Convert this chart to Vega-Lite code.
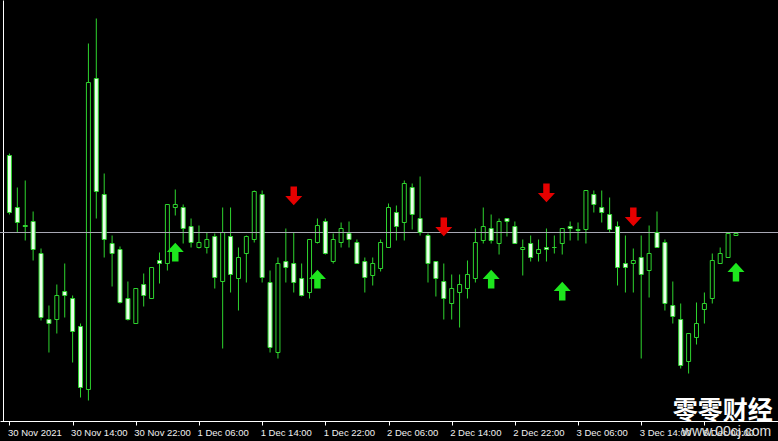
{
  "$schema": "https://vega.github.io/schema/vega-lite/v6.json",
  "width": 778,
  "height": 421,
  "autosize": {"type": "none"},
  "padding": {"left": 0, "top": 0, "right": 0, "bottom": 20},
  "background": "#000000",
  "config": {
    "view": {"stroke": null},
    "axis": {"grid": false, "title": null}
  },
  "datasets": {
    "candles": [
      {"t":"2021-11-30 06:00","i":0,"o":266,"h":268,"l":207,"c":209},
      {"t":"2021-11-30 07:00","i":1,"o":214,"h":234,"l":189,"c":199},
      {"t":"2021-11-30 08:00","i":2,"o":196,"h":241,"l":181,"c":195},
      {"t":"2021-11-30 09:00","i":3,"o":200,"h":210,"l":161,"c":172},
      {"t":"2021-11-30 10:00","i":4,"o":168,"h":173,"l":101,"c":104},
      {"t":"2021-11-30 11:00","i":5,"o":102,"h":116,"l":69,"c":98},
      {"t":"2021-11-30 12:00","i":6,"o":102,"h":137,"l":88,"c":126},
      {"t":"2021-11-30 13:00","i":7,"o":130,"h":158,"l":104,"c":126},
      {"t":"2021-11-30 14:00","i":8,"o":123,"h":126,"l":59,"c":90},
      {"t":"2021-11-30 15:00","i":9,"o":95,"h":98,"l":24,"c":34},
      {"t":"2021-11-30 16:00","i":10,"o":32,"h":378,"l":21,"c":339},
      {"t":"2021-11-30 17:00","i":11,"o":343,"h":403,"l":203,"c":230},
      {"t":"2021-11-30 18:00","i":12,"o":227,"h":248,"l":164,"c":182},
      {"t":"2021-11-30 19:00","i":13,"o":178,"h":186,"l":135,"c":168},
      {"t":"2021-11-30 20:00","i":14,"o":172,"h":175,"l":118,"c":119},
      {"t":"2021-11-30 21:00","i":15,"o":123,"h":140,"l":101,"c":102},
      {"t":"2021-11-30 22:00","i":16,"o":98,"h":133,"l":98,"c":133},
      {"t":"2021-11-30 23:00","i":17,"o":137,"h":148,"l":115,"c":126},
      {"t":"2021-12-01 00:00","i":18,"o":123,"h":154,"l":123,"c":154},
      {"t":"2021-12-01 01:00","i":19,"o":161,"h":169,"l":138,"c":158},
      {"t":"2021-12-01 02:00","i":20,"o":158,"h":217,"l":151,"c":217},
      {"t":"2021-12-01 03:00","i":21,"o":214,"h":232,"l":206,"c":217},
      {"t":"2021-12-01 04:00","i":22,"o":214,"h":217,"l":178,"c":193},
      {"t":"2021-12-01 05:00","i":23,"o":195,"h":203,"l":174,"c":179},
      {"t":"2021-12-01 06:00","i":24,"o":174,"h":196,"l":173,"c":179},
      {"t":"2021-12-01 07:00","i":25,"o":174,"h":189,"l":168,"c":182},
      {"t":"2021-12-01 08:00","i":26,"o":185,"h":188,"l":133,"c":144},
      {"t":"2021-12-01 09:00","i":27,"o":140,"h":214,"l":73,"c":189},
      {"t":"2021-12-01 10:00","i":28,"o":185,"h":214,"l":129,"c":147},
      {"t":"2021-12-01 11:00","i":29,"o":143,"h":174,"l":111,"c":164},
      {"t":"2021-12-01 12:00","i":30,"o":168,"h":186,"l":139,"c":185},
      {"t":"2021-12-01 13:00","i":31,"o":182,"h":231,"l":179,"c":230},
      {"t":"2021-12-01 14:00","i":32,"o":227,"h":231,"l":139,"c":144},
      {"t":"2021-12-01 15:00","i":33,"o":139,"h":151,"l":69,"c":74},
      {"t":"2021-12-01 16:00","i":34,"o":69,"h":164,"l":63,"c":158},
      {"t":"2021-12-01 17:00","i":35,"o":160,"h":193,"l":139,"c":154},
      {"t":"2021-12-01 18:00","i":36,"o":158,"h":189,"l":129,"c":139},
      {"t":"2021-12-01 19:00","i":37,"o":143,"h":158,"l":125,"c":126},
      {"t":"2021-12-01 20:00","i":38,"o":129,"h":182,"l":123,"c":182},
      {"t":"2021-12-01 21:00","i":39,"o":179,"h":203,"l":178,"c":196},
      {"t":"2021-12-01 22:00","i":40,"o":200,"h":203,"l":167,"c":168},
      {"t":"2021-12-01 23:00","i":41,"o":160,"h":188,"l":158,"c":182},
      {"t":"2021-12-02 00:00","i":42,"o":179,"h":199,"l":174,"c":193},
      {"t":"2021-12-02 01:00","i":43,"o":188,"h":200,"l":174,"c":182},
      {"t":"2021-12-02 02:00","i":44,"o":179,"h":182,"l":158,"c":158},
      {"t":"2021-12-02 03:00","i":45,"o":160,"h":164,"l":129,"c":144},
      {"t":"2021-12-02 04:00","i":46,"o":146,"h":164,"l":136,"c":158},
      {"t":"2021-12-02 05:00","i":47,"o":153,"h":182,"l":150,"c":179},
      {"t":"2021-12-02 06:00","i":48,"o":174,"h":218,"l":174,"c":214},
      {"t":"2021-12-02 07:00","i":49,"o":209,"h":216,"l":181,"c":195},
      {"t":"2021-12-02 08:00","i":50,"o":199,"h":241,"l":181,"c":238},
      {"t":"2021-12-02 09:00","i":51,"o":234,"h":238,"l":192,"c":207},
      {"t":"2021-12-02 10:00","i":52,"o":203,"h":245,"l":186,"c":189},
      {"t":"2021-12-02 11:00","i":53,"o":186,"h":188,"l":139,"c":158},
      {"t":"2021-12-02 12:00","i":54,"o":160,"h":160,"l":125,"c":143},
      {"t":"2021-12-02 13:00","i":55,"o":140,"h":158,"l":102,"c":123},
      {"t":"2021-12-02 14:00","i":56,"o":118,"h":147,"l":102,"c":133},
      {"t":"2021-12-02 15:00","i":57,"o":129,"h":147,"l":94,"c":137},
      {"t":"2021-12-02 16:00","i":58,"o":133,"h":161,"l":123,"c":147},
      {"t":"2021-12-02 17:00","i":59,"o":143,"h":193,"l":139,"c":179},
      {"t":"2021-12-02 18:00","i":60,"o":181,"h":214,"l":178,"c":195},
      {"t":"2021-12-02 19:00","i":61,"o":193,"h":207,"l":178,"c":181},
      {"t":"2021-12-02 20:00","i":62,"o":178,"h":203,"l":167,"c":200},
      {"t":"2021-12-02 21:00","i":63,"o":203,"h":203,"l":185,"c":200},
      {"t":"2021-12-02 22:00","i":64,"o":195,"h":200,"l":178,"c":178},
      {"t":"2021-12-02 23:00","i":65,"o":172,"h":182,"l":146,"c":174},
      {"t":"2021-12-03 00:00","i":66,"o":178,"h":186,"l":160,"c":164},
      {"t":"2021-12-03 01:00","i":67,"o":168,"h":182,"l":160,"c":172},
      {"t":"2021-12-03 02:00","i":68,"o":174,"h":193,"l":160,"c":172},
      {"t":"2021-12-03 03:00","i":69,"o":174,"h":186,"l":168,"c":174},
      {"t":"2021-12-03 04:00","i":70,"o":178,"h":193,"l":167,"c":193},
      {"t":"2021-12-03 05:00","i":71,"o":195,"h":200,"l":181,"c":193},
      {"t":"2021-12-03 06:00","i":72,"o":192,"h":199,"l":181,"c":191},
      {"t":"2021-12-03 07:00","i":73,"o":192,"h":231,"l":178,"c":231},
      {"t":"2021-12-03 08:00","i":74,"o":227,"h":231,"l":209,"c":217},
      {"t":"2021-12-03 09:00","i":75,"o":214,"h":231,"l":199,"c":209},
      {"t":"2021-12-03 10:00","i":76,"o":207,"h":224,"l":189,"c":192},
      {"t":"2021-12-03 11:00","i":77,"o":195,"h":200,"l":136,"c":154},
      {"t":"2021-12-03 12:00","i":78,"o":158,"h":186,"l":129,"c":154},
      {"t":"2021-12-03 13:00","i":79,"o":158,"h":173,"l":129,"c":161},
      {"t":"2021-12-03 14:00","i":80,"o":164,"h":186,"l":63,"c":147},
      {"t":"2021-12-03 15:00","i":81,"o":151,"h":196,"l":124,"c":168},
      {"t":"2021-12-03 16:00","i":82,"o":189,"h":210,"l":174,"c":174},
      {"t":"2021-12-03 17:00","i":83,"o":179,"h":182,"l":111,"c":118},
      {"t":"2021-12-03 18:00","i":84,"o":116,"h":140,"l":98,"c":105},
      {"t":"2021-12-03 19:00","i":85,"o":102,"h":118,"l":53,"c":56},
      {"t":"2021-12-03 20:00","i":86,"o":60,"h":88,"l":48,"c":88},
      {"t":"2021-12-03 21:00","i":87,"o":84,"h":119,"l":77,"c":98},
      {"t":"2021-12-06 00:00","i":88,"o":112,"h":129,"l":98,"c":118},
      {"t":"2021-12-06 01:00","i":89,"o":123,"h":168,"l":118,"c":161},
      {"t":"2021-12-06 02:00","i":90,"o":158,"h":174,"l":158,"c":168},
      {"t":"2021-12-06 03:00","i":91,"o":164,"h":188,"l":164,"c":188},
      {"t":"2021-12-06 04:00","i":92,"o":186,"h":188,"l":186,"c":188}
    ],
    "signals": [
      {"i":21,"v":169,"dir":"up"},
      {"i":36,"v":226,"dir":"down"},
      {"i":39,"v":142,"dir":"up"},
      {"i":55,"v":195,"dir":"down"},
      {"i":61,"v":142,"dir":"up"},
      {"i":68,"v":229,"dir":"down"},
      {"i":70,"v":130,"dir":"up"},
      {"i":79,"v":205,"dir":"down"},
      {"i":92,"v":149,"dir":"up"}
    ]
  },
  "data": {"name": "candles"},
  "layer": [
    {
      "mark": {"type": "rule", "color": "#2ed42e", "strokeWidth": 1},
      "encoding": {
        "x": {
          "field": "i", "type": "quantitative",
          "scale": {"domain": [-0.5625, 96.6875], "nice": false, "zero": false},
          "axis": {
            "orient": "bottom",
            "values": [0, 8, 16, 24, 32, 40, 48, 56, 64, 72, 80, 88],
            "labelExpr": "['30 Nov 2021','30 Nov 14:00','30 Nov 22:00','1 Dec 06:00','1 Dec 14:00','1 Dec 22:00','2 Dec 06:00','2 Dec 14:00','2 Dec 22:00','3 Dec 06:00','3 Dec 14:00','6 Dec 00:00'][round(datum.value/8)]",
            "domainColor": "#ffffff",
            "tickColor": "#ffffff",
            "tickSize": 4,
            "labelColor": "#f0f0f0",
            "labelFont": "Liberation Sans",
            "labelFontSize": 9.5,
            "labelAlign": "left",
            "labelBaseline": "top",
            "labelPadding": 2,
            "labelOffset": -2,
            "labelFlush": false,
            "labelOverlap": false,
            "labelBound": false
          }
        },
        "y": {
          "field": "h", "type": "quantitative",
          "scale": {"domain": [0.5, 421.5], "nice": false, "zero": false},
          "axis": {
            "orient": "left",
            "labels": false,
            "ticks": false,
            "domainColor": "#ffffff",
            "offset": -3
          }
        },
        "y2": {"field": "l"}
      }
    },
    {
      "transform": [{"filter": "datum.c >= datum.o"}],
      "mark": {"type": "bar", "width": 4, "fill": "#000000", "stroke": "#2ed42e", "strokeWidth": 1},
      "encoding": {
        "x": {"field": "i", "type": "quantitative"},
        "y": {"field": "o", "type": "quantitative"},
        "y2": {"field": "c"}
      }
    },
    {
      "data": {"values": [{"level": 189}]},
      "mark": {"type": "rule", "color": "#a8a8b4", "strokeWidth": 1},
      "encoding": {
        "y": {"field": "level", "type": "quantitative"}
      }
    },
    {
      "transform": [{"filter": "datum.c < datum.o"}],
      "mark": {"type": "bar", "width": 4, "fill": "#eaffea", "stroke": "#2ed42e", "strokeWidth": 1},
      "encoding": {
        "x": {"field": "i", "type": "quantitative"},
        "y": {"field": "o", "type": "quantitative"},
        "y2": {"field": "c"}
      }
    },
    {
      "data": {"name": "signals"},
      "mark": {"type": "point", "filled": true, "opacity": 1, "size": 289},
      "encoding": {
        "x": {"field": "i", "type": "quantitative"},
        "y": {"field": "v", "type": "quantitative"},
        "shape": {
          "field": "dir", "type": "nominal", "legend": null,
          "scale": {
            "domain": ["up", "down"],
            "range": [
              "M0,-1.15 L1,-0.05 L0.38,-0.05 L0.38,1.05 L-0.38,1.05 L-0.38,-0.05 L-1,-0.05 Z",
              "M0,1.15 L1,0.05 L0.38,0.05 L0.38,-1.05 L-0.38,-1.05 L-0.38,0.05 L-1,0.05 Z"
            ]
          }
        },
        "color": {
          "field": "dir", "type": "nominal", "legend": null,
          "scale": {"domain": ["up", "down"], "range": ["#1ee61e", "#e60000"]}
        }
      }
    },
    {
      "data": {"values": [{}]},
      "mark": {"type": "text", "text": "零零财经", "font": "Noto Sans CJK SC", "fontWeight": "bold", "fontSize": 25, "color": "#ffffff", "align": "center", "baseline": "middle"},
      "encoding": {
        "x": {"datum": 90.31, "type": "quantitative"},
        "y": {"datum": 10.5, "type": "quantitative"}
      }
    },
    {
      "data": {"values": [{}]},
      "mark": {"type": "text", "text": "www.00cj.com", "font": "Liberation Sans", "fontSize": 14, "color": "#e0e0e0", "align": "center", "baseline": "middle"},
      "encoding": {
        "x": {"datum": 90.8, "type": "quantitative"},
        "y": {"datum": -10.5, "type": "quantitative"}
      }
    }
  ]
}
